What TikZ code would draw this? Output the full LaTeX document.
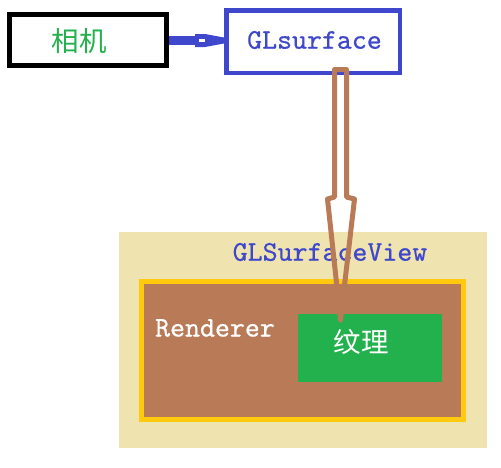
\documentclass[tikz,border=0pt]{standalone}
\usepackage{fontspec}
\newfontfamily\cjk{Noto Sans CJK SC}
\newfontfamily\monob{lmmono10-regular.otf}[FakeBold=0.6]
\usetikzlibrary{calc}
\definecolor{pblue}{HTML}{3F48CC}
\definecolor{pgreen}{HTML}{22B14C}
\definecolor{pbrown}{HTML}{B97A57}
\definecolor{pbeige}{HTML}{EFE4B0}
\definecolor{pgold}{HTML}{FFC90E}
\tikzset{
  box/.style={draw, rectangle, inner sep=0pt},
  latin/.style={font=\fontsize{28.5}{30}\selectfont\monob},
  hanzi/.style={font=\fontsize{27.5}{29}\selectfont\cjk},
  hollowarrow/.style={draw=pbrown, line width=5pt, line join=round},
}
\begin{document}
\begin{tikzpicture}[x=1pt,y=-1pt]
\useasboundingbox (0,0) rectangle (501,467);
% containers
\node[rectangle, fill=pbeige, minimum width=368pt, minimum height=216pt, inner sep=0pt] (view) at (303,340) {};
\node[latin, text=pblue] (viewlbl) at (330,252) {GLSurfaceView};
\node[box, draw=pgold, line width=5pt, fill=pbrown, minimum width=322pt, minimum height=138pt] (rend) at (302.5,350.5) {};
\node[latin, text=white] (rendlbl) at (215,328) {Renderer};
\node[rectangle, fill=pgreen, minimum width=144pt, minimum height=68pt, inner sep=0pt] (tex) at (370,348) {};
\node[hanzi, text=white] (texlbl) at (361,341.5) {纹理};
% top boxes
\node[box, draw=black, line width=5pt, minimum width=157pt, minimum height=51pt] (cam) at (88,40) {};
\node[hanzi, text=pgreen] (camlbl) at (79,41.5) {相机};
\node[box, draw=pblue, line width=4.5pt, fill=white, minimum width=173.5pt, minimum height=62.5pt] (gls) at (313,41.5) {};
\node[latin, text=pblue] (glslbl) at (314.5,40) {GLsurface};
% blue arrow camera -> GLsurface
\coordinate (bneck) at (197,40.5);
\draw[pblue, line width=9pt] (cam.east |- bneck) -- (bneck);
\fill[pblue] (195,34) -- (205,34) -- (gls.west |- 0,37.5) -- (gls.west |- 0,43.5) -- (205,47) -- (195,47) -- cycle;
\fill[white] (199,39) rectangle (205,42);
% hollow brown arrow GLsurface -> texture
\coordinate (atop) at (340.5,69.5);
\coordinate (atip) at (340.5,320);
\draw[hollowarrow] ($(atop)+(-6,0)$) -- ($(atop)+(6,0)$) -- ($(atop)+(6,127.5)$) -- ($(atop)+(14,129.5)$)
  -- (atip) -- ($(atop)+(-13,129.5)$) -- ($(atop)+(-6,127.5)$) -- cycle;
\end{tikzpicture}
\end{document}
